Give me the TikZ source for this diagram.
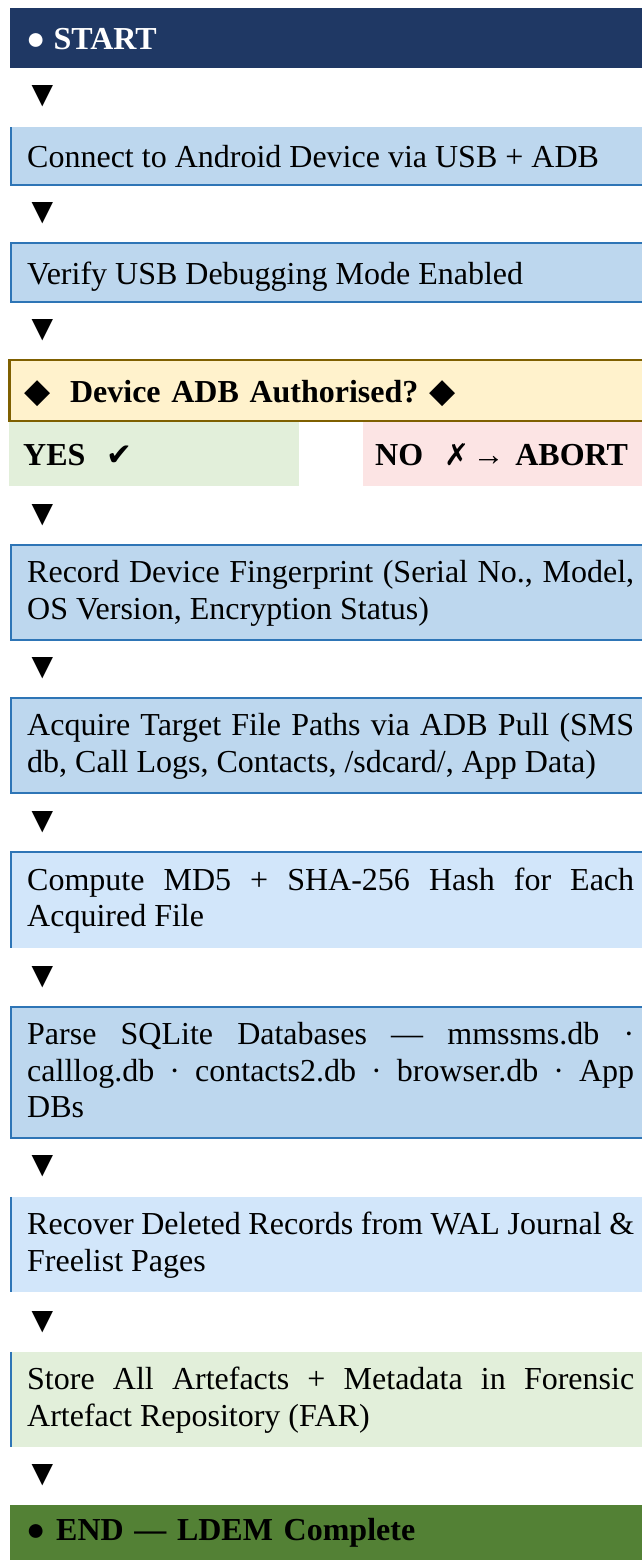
\documentclass[tikz,border=0pt]{standalone}
\usepackage{fontspec}
\setmainfont{Liberation Serif}
\newfontfamily\symf{DejaVu Sans}
\definecolor{navy}{HTML}{1F3864}
\definecolor{stepblue}{HTML}{BDD7EE}
\definecolor{paleblue}{HTML}{D2E6FA}
\definecolor{bordblue}{HTML}{2E75B6}
\definecolor{decgold}{HTML}{FFF2CC}
\definecolor{decbrown}{HTML}{7F6000}
\definecolor{palegreen}{HTML}{E2EFDA}
\definecolor{palepink}{HTML}{FCE4E4}
\definecolor{endgreen}{HTML}{538135}
\newcommand{\symbolchar}[2][27]{{\symf\fontsize{#1}{#1}\selectfont #2}}
\newcommand{\mystrut}{\rule[-7pt]{0pt}{31pt}}
\newcommand{\onestrut}{\rule[-4pt]{0pt}{34pt}}
\begin{document}
\hyphenpenalty=10000 \exhyphenpenalty=10000 \tolerance=9999
\begin{tikzpicture}[x=1pt,y=-1pt,
  base/.style={font=\fontsize{32}{36.8}\selectfont, inner ysep=0pt,
    execute at begin node=\mystrut, execute at end node=\mystrut},
  single/.style={execute at begin node=\onestrut, execute at end node=\onestrut},
  stepbox/.style={base, fill=#1, anchor=west, inner xsep=16pt, text width=607pt, align=justify},
  decbox/.style={base, single, fill=decgold, draw=decbrown, line width=2.5pt, anchor=west, inner xsep=15pt, text width=620pt, align=left, minimum height=61pt},
  choice/.style={base, single, fill=#1, anchor=west, align=left, minimum height=64pt},
  tri/.style={font=\symf\fontsize{28}{28}\selectfont, inner sep=0pt},
  bline/.style={draw=bordblue, line width=1.5pt},
]
\path[use as bounding box, fill=white] (0,0) rectangle (641,1560);

% START
\node[stepbox=navy, single, text=white, minimum height=60pt] (start) at (10,38) {\bfseries ● START};
\node[tri] (a1) at (42.5,96) {▼};

\node[stepbox=stepblue, single, minimum height=58pt] (connect) at (11,156) {Connect to Android Device via USB + ADB};
\draw[bline] (connect.south east) -- (connect.south west) -- (connect.north west);
\node[tri] (a2) at (42.5,213) {▼};

\node[stepbox=stepblue, single, minimum height=59pt] (verify) at (11,272.5) {Verify USB Debugging Mode Enabled};
\draw[bline] (verify.north east) -- (verify.north west) -- (verify.south west) -- (verify.south east);
\node[tri] (a3) at (42.5,330) {▼};

\node[decbox] (decision) at (8,390.5) {\symbolchar[34]{◆}\ \hspace{9pt}\textbf{Device ADB Authorised?}\ \symbolchar[34]{◆}};
\node[choice=palegreen, inner xsep=14pt, text width=262pt] (yes) at (9,454) {\textbf{YES}\ \ \symbolchar[31]{✔}};
\node[choice=palepink, inner xsep=12pt, text width=300pt] (no) at (363,454) {\textbf{NO}\ \ \symbolchar[30]{✗}\hspace{3pt}\textbf{→ ABORT}};
\node[tri] (a4) at (42.5,515) {▼};

\node[stepbox=stepblue, minimum height=95pt] (record) at (11,592.5) {Record Device Fingerprint (Serial No., Model,\linebreak OS Version, Encryption Status)};
\draw[bline] (record.north east) -- (record.north west) -- (record.south west) -- (record.south east);
\node[tri] (a5) at (42.5,668) {▼};

\node[stepbox=stepblue, minimum height=95pt] (acquire) at (11,745.5) {Acquire Target File Paths via ADB Pull (SMS\linebreak db, Call Logs, Contacts, /sdcard/, App Data)};
\draw[bline] (acquire.north east) -- (acquire.north west) -- (acquire.south west) -- (acquire.south east);
\node[tri] (a6) at (42.5,822) {▼};

\node[stepbox=paleblue, minimum height=96pt] (hash) at (11,900) {Compute MD5 + SHA-256 Hash for Each\linebreak Acquired File};
\draw[bline] (hash.north east) -- (hash.north west) -- (hash.south west);
\node[tri] (a7) at (42.5,977) {▼};

\node[stepbox=stepblue, minimum height=131pt] (parse) at (11,1072.5) {Parse SQLite Databases — mmssms.db ·\linebreak calllog.db · contacts2.db · browser.db · App\linebreak DBs};
\draw[bline] (parse.north east) -- (parse.north west) -- (parse.south west) -- (parse.south east);
\node[tri] (a8) at (42.5,1166) {▼};

\node[stepbox=paleblue, minimum height=95pt] (recover) at (11,1244.5) {Recover Deleted Records from WAL Journal \&\linebreak Freelist Pages};
\draw[bline] (recover.north west) -- (recover.south west);
\node[tri] (a9) at (42.5,1322) {▼};

\node[stepbox=palegreen, minimum height=95pt] (store) at (11,1399.5) {Store All Artefacts + Metadata in Forensic\linebreak Artefact Repository (FAR)};
\draw[bline] (store.north west) -- (store.south west);
\node[tri] (a10) at (42.5,1475) {▼};

\node[font=\fontsize{32}{36.8}\selectfont, inner ysep=0pt, fill=endgreen, anchor=north west, inner xsep=16pt, text width=607pt, align=left, text height=35pt, text depth=25pt] (end) at (10,1505) {\bfseries ● END — LDEM Complete};
\end{tikzpicture}
\end{document}
